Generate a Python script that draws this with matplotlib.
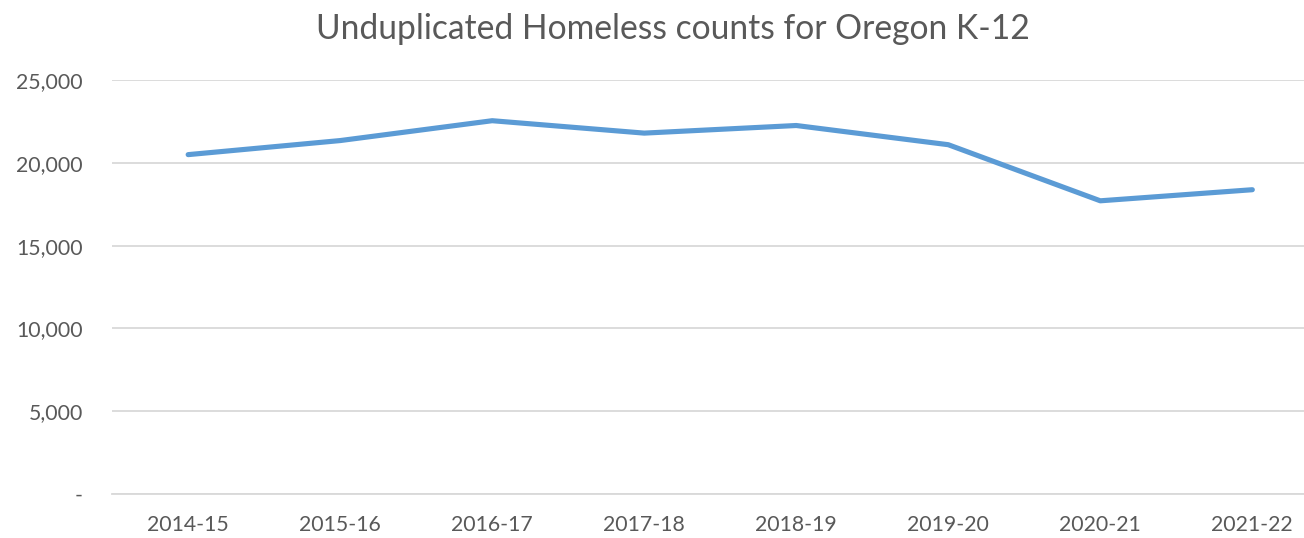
import matplotlib.pyplot as plt
from matplotlib.ticker import FuncFormatter

years = ['2014-15', '2015-16', '2016-17', '2017-18', '2018-19', '2019-20', '2020-21', '2021-22']
counts = [20500, 21350, 22550, 21800, 22260, 21100, 17710, 18380]
yticks = [0, 5000, 10000, 15000, 20000, 25000]

plt.rcParams['font.family'] = ['Lato', 'DejaVu Sans']
text_color = '#595959'
grid_color = '#D9D9D9'

fig = plt.figure(figsize=(13.04, 5.38), dpi=100)
ax = fig.add_axes([0.086, 0.082, 0.914, 0.769])

x = list(range(len(years)))
ax.plot(x, counts, color='#5B9BD5', linewidth=3.7, solid_capstyle='round', solid_joinstyle='round', zorder=3)

ax.set_ylim(0, 25000)
ax.set_xlim(-0.5, 7.34)
ax.set_yticks(yticks)
ax.yaxis.set_major_formatter(FuncFormatter(lambda v, p: '-' if v == 0 else f'{int(v):,}'))
ax.set_xticks(x)
ax.set_xticklabels(years)
ax.grid(axis='y', color=grid_color, linewidth=1.3)
ax.set_axisbelow(True)

for s in ['top', 'right', 'left']:
    ax.spines[s].set_visible(False)
ax.spines['bottom'].set_color(grid_color)
ax.spines['bottom'].set_linewidth(1.3)
ax.tick_params(length=0, colors=text_color, labelsize=15.3)
ax.tick_params(axis='y', pad=21)
ax.tick_params(axis='x', pad=15)

fig.text(0.516, 0.947, 'Unduplicated Homeless counts for Oregon K-12', ha='center', va='center',
         fontsize=24.2, color=text_color)

fig.savefig('out.png', dpi=100)
